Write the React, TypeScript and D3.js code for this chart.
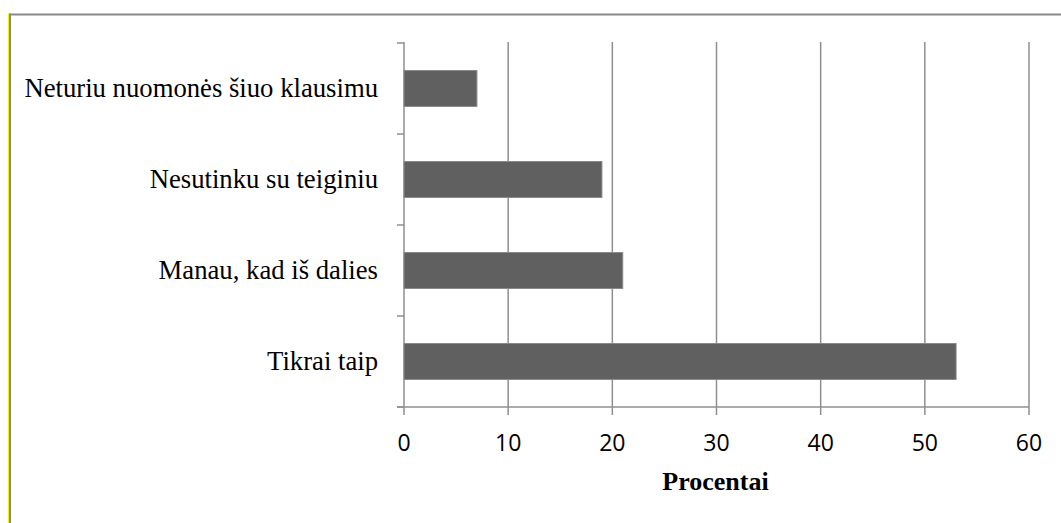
import React from "react";
import * as d3 from "d3";

const categories: string[] = [
  "Neturiu nuomonės šiuo klausimu",
  "Nesutinku su teiginiu",
  "Manau, kad iš dalies",
  "Tikrai taip",
];
const values: number[] = [7, 19, 21, 53];
const xTicks: number[] = [0, 10, 20, 30, 40, 50, 60];
const xTitle = "Procentai";

export default function App() {
  const W = 1061;
  const H = 523;
  const left = 404;
  const right = 1029;
  const top = 43;
  const bottom = 407;

  const x = d3.scaleLinear().domain([0, 60]).range([left, right]);
  const y = d3.scaleBand<string>().domain(categories).range([top, bottom]).paddingInner(0).paddingOuter(0);
  const bw = y.bandwidth();
  const barH = bw * 0.395;
  const boundaries = d3.range(categories.length + 1).map((i) => top + i * bw);

  return (
    <svg
      width={W}
      height={H}
      style={{ position: "absolute", left: 0, top: 0, background: "#fff" }}
    >
      {/* frame */}
      <line x1={9} y1={14.5} x2={W} y2={14.5} stroke="#8a8a8a" strokeWidth={2} />
      <line x1={8.5} y1={13.5} x2={8.5} y2={H} stroke="#f5f500" strokeWidth={1} />
      <line x1={10} y1={13.5} x2={10} y2={H} stroke="#8a8a8a" strokeWidth={2} />

      {/* gridlines */}
      {xTicks.map((t) => (
        <line
          key={"g" + t}
          x1={x(t)}
          x2={x(t)}
          y1={top - 1}
          y2={bottom + 8}
          stroke="#8f8f8f"
          strokeWidth={1.5}
        />
      ))}

      {/* y axis ticks */}
      {boundaries.map((b, i) => (
        <line key={"yt" + i} x1={x(0) - 7} x2={x(0)} y1={b} y2={b} stroke="#8f8f8f" strokeWidth={1.5} />
      ))}
      {/* x axis line */}
      <line x1={x(0) - 7} x2={x(60)} y1={bottom} y2={bottom} stroke="#8f8f8f" strokeWidth={1.5} />

      {/* bars */}
      {categories.map((c, i) => {
        const cy = (y(c) as number) + bw / 2;
        return (
          <rect
            key={c}
            x={x(0)}
            y={cy - barH / 2}
            width={x(values[i]) - x(0)}
            height={barH}
            fill="#606060"
            stroke="#8a8a8a"
            strokeWidth={1}
          />
        );
      })}

      {/* category labels */}
      {categories.map((c) => {
        const cy = (y(c) as number) + bw / 2;
        return (
          <text
            key={"l" + c}
            x={378}
            y={cy + 8.5}
            textAnchor="end"
            fontFamily="'Liberation Serif', 'Times New Roman', serif"
            fontSize={26.7}
            fill="#000"
          >
            {c}
          </text>
        );
      })}

      {/* x tick labels */}
      {xTicks.map((t) => (
        <text
          key={"xl" + t}
          x={x(t)}
          y={451}
          textAnchor="middle"
          fontFamily="'Open Sans', sans-serif"
          fontSize={23}
          fill="#000"
        >
          {t}
        </text>
      ))}

      {/* x title */}
      <text
        x={(661 + 770) / 2}
        y={490}
        textAnchor="middle"
        fontFamily="'Liberation Serif', 'Times New Roman', serif"
        fontWeight="bold"
        fontSize={26}
        fill="#000"
      >
        {xTitle}
      </text>
    </svg>
  );
}
